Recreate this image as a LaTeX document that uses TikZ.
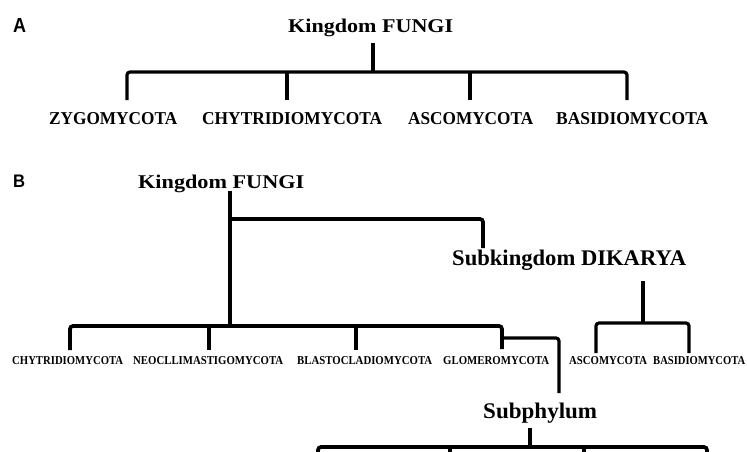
\documentclass[tikz,border=0pt]{standalone}
\usepackage{fontspec}
\setmainfont{Liberation Serif}
\setsansfont{Liberation Sans}
\usepackage{graphicx}
\newcommand{\mylbl}[3]{\resizebox{#1}{#2}{#3}}
\tikzset{
  br/.style={line width=3.2pt, rounded corners=3pt},
  brb/.style={line width=3.7pt, rounded corners=3pt},
  lbl/.style={inner sep=0pt, anchor=base west, font=\bfseries},
  pan/.style={inner sep=0pt, anchor=base west, font=\sffamily\bfseries}
}
\begin{document}
\begin{tikzpicture}[x=1pt,y=-1pt]
\useasboundingbox (0,0) rectangle (747,451);
\clip (0,0) rectangle (747,451);
% ---------------- Panel A
\node[pan] (pA) at (13,32) {\mylbl{13pt}{14pt}{A}};
\node[lbl] (kA) at (288,32) {\mylbl{165pt}{13.5pt}{Kingdom FUNGI}};
\node[lbl] (zy) at (49,124) {\mylbl{128pt}{12pt}{ZYGOMYCOTA}};
\node[lbl] (chA) at (202,124) {\mylbl{180pt}{12pt}{CHYTRIDIOMYCOTA}};
\node[lbl] (asA) at (408,124) {\mylbl{125pt}{12pt}{ASCOMYCOTA}};
\node[lbl] (baA) at (556,124) {\mylbl{152pt}{12pt}{BASIDIOMYCOTA}};
\coordinate (aTop) at (373,43);
\coordinate (aJ) at (373,72);
\coordinate (a1) at (127,100);
\coordinate (a2) at (287,100);
\coordinate (a3) at (470,100);
\coordinate (a4) at (627,100);
\draw[br] (aTop) -- (aJ);
\draw[br] (a1) |- (aJ) -| (a4);
\draw[br] (a2 |- aJ) -- (a2);
\draw[br] (a3 |- aJ) -- (a3);
% ---------------- Panel B
\node[pan] (pB) at (13,187) {\mylbl{12pt}{12.5pt}{B}};
\node[lbl] (kB) at (138,188) {\mylbl{166pt}{13.5pt}{Kingdom FUNGI}};
\node[lbl] (dik) at (452,265) {\mylbl{234pt}{15.5pt}{Subkingdom DIKARYA}};
\node[lbl] (chB) at (12,364) {\mylbl{111pt}{8pt}{CHYTRIDIOMYCOTA}};
\node[lbl] (neo) at (133,364) {\mylbl{150pt}{8pt}{NEOCLLIMASTIGOMYCOTA}};
\node[lbl] (bla) at (297,364) {\mylbl{135pt}{8pt}{BLASTOCLADIOMYCOTA}};
\node[lbl] (glo) at (443,364) {\mylbl{106pt}{8pt}{GLOMEROMYCOTA}};
\node[lbl] (asB) at (569,364) {\mylbl{78pt}{8pt}{ASCOMYCOTA}};
\node[lbl] (baB) at (653,364) {\mylbl{92pt}{8pt}{BASIDIOMYCOTA}};
\node[lbl] (sub) at (483,418) {\mylbl{114pt}{15.5pt}{Subphylum}};
% Kingdom stem and DIKARYA branch
\coordinate (bTop) at (230,191);
\coordinate (bK) at (230,219);
\coordinate (bJ) at (230,326);
\coordinate (dk) at (483,248);
\draw[brb] (bTop) -- (bJ);
\draw[brb] (bK) -| (dk);
% main phyla bar
\coordinate (b1) at (70,350);
\coordinate (b2) at (209,350);
\coordinate (b3) at (356,350);
\coordinate (b5) at (502,349);
\draw[brb] (b1) |- (bJ) -| (b5);
\draw[brb] (b2 |- bJ) -- (b2);
\draw[brb] (b3 |- bJ) -- (b3);
% Glomero branch to Subphylum
\coordinate (gS) at (502,338);
\coordinate (sp) at (559,393);
\draw[br] (gS) -| (sp);
% DIKARYA bar
\coordinate (dTop) at (643,281);
\coordinate (dJ) at (643,323);
\coordinate (d1) at (596,353);
\coordinate (d2) at (689,353);
\draw[br] (dTop) -- (dJ);
\draw[br] (d1) |- (dJ) -| (d2);
% Subphylum bar
\coordinate (sTop) at (530,428);
\coordinate (sJ) at (530,447);
\coordinate (s1) at (318,462);
\coordinate (s2) at (450,462);
\coordinate (s3) at (584,462);
\coordinate (s4) at (707,462);
\draw[brb] (sTop) -- (sJ);
\draw[brb] (s1) |- (sJ) -| (s4);
\draw[brb] (s2 |- sJ) -- (s2);
\draw[brb] (s3 |- sJ) -- (s3);
\end{tikzpicture}
\end{document}
